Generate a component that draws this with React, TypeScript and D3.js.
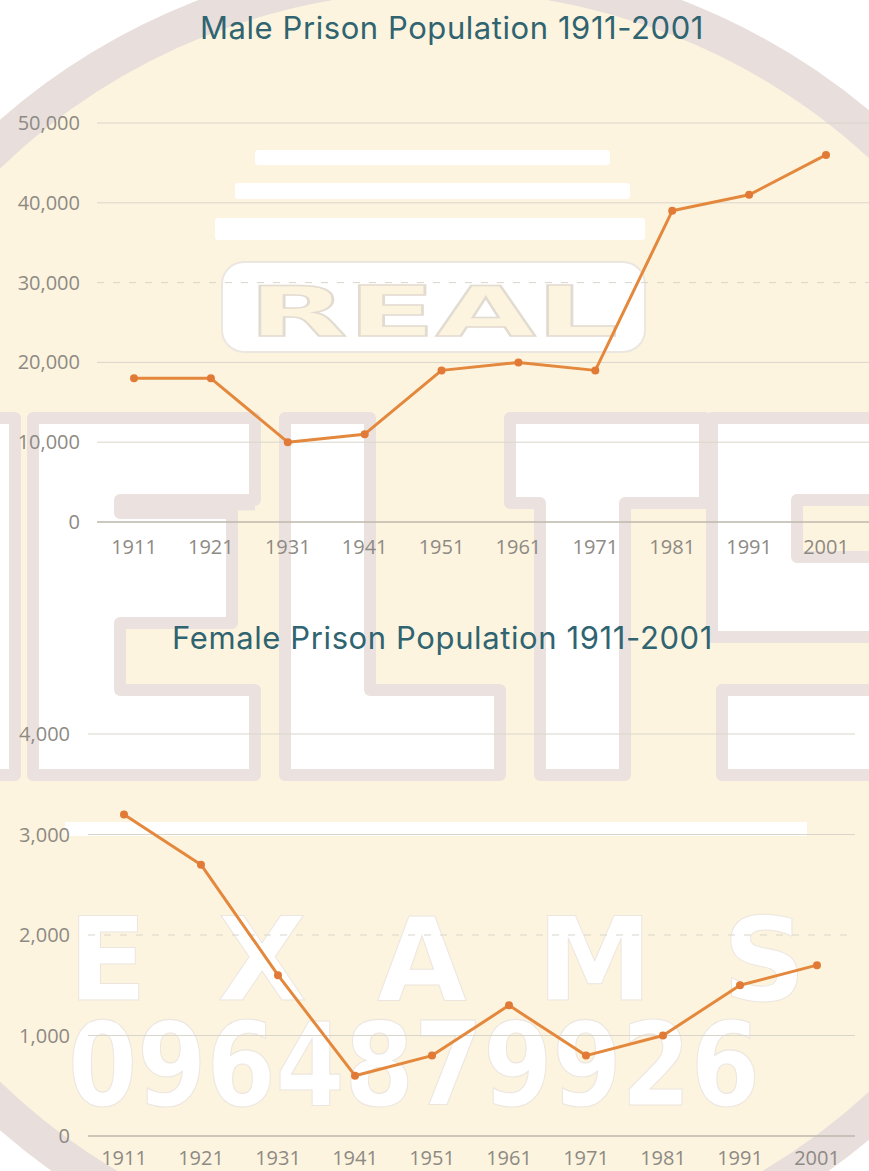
import React from "react";
import * as d3 from "d3";

const years = ["1911", "1921", "1931", "1941", "1951", "1961", "1971", "1981", "1991", "2001"];
const maleValues = [18000, 18000, 10000, 11000, 19000, 20000, 19000, 39000, 41000, 46000];
const femaleValues = [3200, 2700, 1600, 600, 800, 1300, 800, 1000, 1500, 1700];
const maleTicks = [0, 10000, 20000, 30000, 40000, 50000];
const femaleTicks = [0, 1000, 2000, 3000, 4000];
const maleTitle = "Male Prison Population 1911-2001";
const femaleTitle = "Female Prison Population 1911-2001";

const W = 869;
const H = 1171;
const CREAM = "#fdf4df";
const RING = "#e8dedb";
const OUTLINE = "#ebe2df";
const LINE = "#e3883c";
const DOT = "#e27a37";
const TEAL = "#2f6470";
const LABEL = "#8d8a84";
const GRID = "#dad5ca";

type Panel = {
  title: string;
  titleX: number;
  titleY: number;
  titleLen: number;
  values: number[];
  ticks: number[];
  yMax: number;
  xRange: [number, number];
  yRange: [number, number];
  gridX: [number, number];
  labelRight: number;
  xLabelY: number;
  dashedTick: number;
};

const panels: Panel[] = [
  {
    title: maleTitle,
    titleX: 200,
    titleY: 39,
    titleLen: 503,
    values: maleValues,
    ticks: maleTicks,
    yMax: 50000,
    xRange: [134, 826],
    yRange: [522, 123],
    gridX: [97, 869],
    labelRight: 80,
    xLabelY: 554,
    dashedTick: 30000,
  },
  {
    title: femaleTitle,
    titleX: 172,
    titleY: 649,
    titleLen: 540,
    values: femaleValues,
    ticks: femaleTicks,
    yMax: 4000,
    xRange: [124, 817],
    yRange: [1136, 734],
    gridX: [88, 855],
    labelRight: 70,
    xLabelY: 1165,
    dashedTick: 2000,
  },
];

const fmt = d3.format(",");

function ChartPanel({ p }: { p: Panel }) {
  const x = d3.scalePoint<string>().domain(years).range(p.xRange);
  const y = d3.scaleLinear().domain([0, p.yMax]).range(p.yRange);
  const line = d3
    .line<number>()
    .x((_, i) => x(years[i]) as number)
    .y((d) => y(d));
  return (
    <g>
      <text
        x={p.titleX}
        y={p.titleY}
        fontFamily="Inter, 'Noto Sans', sans-serif"
        fontSize={31}
        letterSpacing={-0.4}
        textLength={p.titleLen}
        lengthAdjust="spacing"
        fill={TEAL}
      >
        {p.title}
      </text>
      {p.ticks.map((t) => (
        <g key={t}>
          <line
            x1={p.gridX[0]}
            x2={p.gridX[1]}
            y1={y(t)}
            y2={y(t)}
            stroke={t === 0 ? "#bcb7ad" : GRID}
            strokeWidth={t === 0 ? 1.3 : 1}
            strokeDasharray={t === p.dashedTick ? "7 9" : undefined}
          />
          <text
            x={p.labelRight}
            y={y(t)}
            dy="0.35em"
            textAnchor="end"
            fontFamily="'Open Sans', sans-serif"
            fontSize={20}
            fill={LABEL}
          >
            {fmt(t)}
          </text>
        </g>
      ))}
      {years.map((yr) => (
        <text
          key={yr}
          x={x(yr) as number}
          y={p.xLabelY}
          textAnchor="middle"
          fontFamily="'Open Sans', sans-serif"
          fontSize={20}
          fill={LABEL}
        >
          {yr}
        </text>
      ))}
      <path d={line(p.values) as string} fill="none" stroke={LINE} strokeWidth={3} strokeLinejoin="round" />
      {p.values.map((v, i) => (
        <circle key={i} cx={x(years[i]) as number} cy={y(v)} r={4} fill={DOT} />
      ))}
    </g>
  );
}

function poly(pts: number[][]) {
  return "M" + pts.map((q) => q.join(",")).join("L") + "Z";
}

function Watermark() {
  const letters = [
    poly([[-70, 418], [15, 418], [15, 775], [-70, 775]]),
    poly([[33, 418], [255, 418], [255, 500], [120, 500], [120, 513], [232, 513], [232, 623], [120, 623], [120, 690], [255, 690], [255, 775], [33, 775]]),
    poly([[285, 418], [370, 418], [370, 690], [500, 690], [500, 775], [285, 775]]),
    poly([[510, 418], [705, 418], [705, 503], [625, 503], [625, 775], [540, 775], [540, 503], [510, 503]]),
    poly([[712, 418], [960, 418], [960, 500], [797, 500], [797, 557], [960, 557], [960, 775], [722, 775], [722, 690], [890, 690], [890, 637], [712, 637]]),
  ];
  return (
    <g>
      <rect x={0} y={0} width={W} height={H} fill="#ffffff" />
      <circle cx={440} cy={625} r={652} fill={CREAM} stroke={RING} strokeWidth={36} />
      {letters.map((d, i) => (
        <path key={i} d={d} fill="#ffffff" stroke={OUTLINE} strokeWidth={12} strokeLinejoin="round" />
      ))}
      <line x1={120} x2={255} y1={506} y2={506} stroke={OUTLINE} strokeWidth={9} />
      {/* book stripes */}
      <rect x={255} y={150} width={355} height={15} rx={3} fill="#ffffff" />
      <rect x={235} y={183} width={395} height={16} rx={3} fill="#ffffff" />
      <rect x={215} y={218} width={430} height={22} rx={3} fill="#ffffff" />
      {/* REAL box */}
      <rect x={222} y={262} width={423} height={90} rx={22} fill="#ffffff" stroke="#ece6e0" strokeWidth={2} />
      <text
        x={433}
        y={336}
        textAnchor="middle"
        fontFamily="'DejaVu Sans', sans-serif"
        fontWeight="bold"
        fontSize={70}
        textLength={370}
        lengthAdjust="spacingAndGlyphs"
        fill={CREAM}
        stroke="#e2dbd1"
        strokeWidth={1.5}
      >
        REAL
      </text>
      {/* white bar */}
      <rect x={65} y={822} width={742} height={14} fill="#ffffff" />
      <text
        x={68}
        y={1000}
        fontFamily="'DejaVu Sans', sans-serif"
        fontWeight="bold"
        fontSize={116}
        textLength={738}
        lengthAdjust="spacing"
        fill="#ffffff"
        stroke="#ece6df"
        strokeWidth={1}
      >
        EXAMS
      </text>
      <g transform="translate(68,1105) scale(1,1.17)">
        <text
          x={0}
          y={0}
          fontFamily="'DejaVu Sans', sans-serif"
          fontWeight="bold"
          fontSize={99}
          textLength={692}
          lengthAdjust="spacingAndGlyphs"
          fill="#ffffff"
          stroke="#ece6df"
          strokeWidth={1}
        >
          0964879926
        </text>
      </g>
    </g>
  );
}

export default function App() {
  return (
    <svg
      width={W}
      height={H}
      viewBox={`0 0 ${W} ${H}`}
      style={{ position: "absolute", left: 0, top: 0, display: "block" }}
    >
      <Watermark />
      {panels.map((p) => (
        <ChartPanel key={p.title} p={p} />
      ))}
    </svg>
  );
}
